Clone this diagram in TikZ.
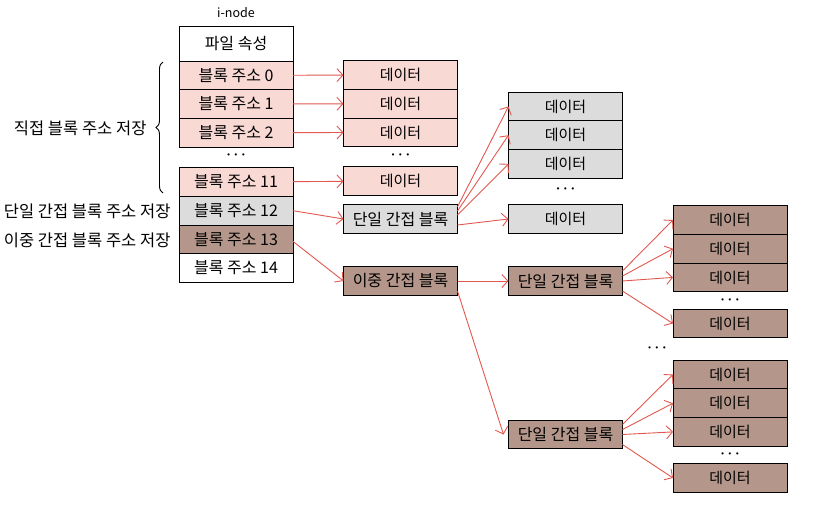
\documentclass[tikz,border=0pt]{standalone}
\usepackage{fontspec}
\setmainfont{Noto Sans CJK KR}
\usepackage{xcolor}
\usepackage{tikz}
\usetikzlibrary{positioning, arrows.meta, decorations.pathreplacing}

\definecolor{pinkcell}{HTML}{F9D9D4}
\definecolor{graycell}{HTML}{DCDCDC}
\definecolor{browncell}{HTML}{B4978A}
\definecolor{arrowred}{HTML}{E0584E}

\tikzset{
	cell/.style={draw, line width=0.9pt, outer sep=0pt, inner sep=0pt, minimum width=114pt, minimum height=28.7pt, font=\fontsize{16}{18}\selectfont},
	pinkbox/.style={cell, fill=pinkcell},
	graybox/.style={cell, fill=graycell},
	brownbox/.style={cell, fill=browncell},
	datatext/.style={font=\fontsize{15}{17}\selectfont},
	dotsnode/.style={font=\Large\boldmath},
	sidelabel/.style={anchor=east, font=\fontsize{16.5}{18}\selectfont},
	ptr/.style={draw=arrowred, line width=0.9pt, -{Straight Barb[length=6pt, width=13pt]}}
}

\begin{document}
\begin{tikzpicture}[x=1pt, y=-1pt]
			\useasboundingbox (0,0) rectangle (831,511);

			% i-node
			\node[font=\fontsize{12.5}{14}\selectfont] (title) at (236,13) {i-node};
			\node[cell, minimum height=35pt] (attr) at (236,43.5) {파일 속성};
			\node[pinkbox, below = 0pt of attr] (b0) {블록 주소 0};
			\node[pinkbox, below = 0pt of b0] (b1) {블록 주소 1};
			\node[pinkbox, below = 0pt of b1] (b2) {블록 주소 2};
			\node[dotsnode] (dots1) at (236,155) {$\cdots$};
			\node[pinkbox] (b11) at (236,182) {블록 주소 11};
			\node[graybox, below = 0pt of b11] (b12) {블록 주소 12};
			\node[brownbox, below = 0pt of b12] (b13) {블록 주소 13};
			\node[cell, below = 0pt of b13] (b14) {블록 주소 14};

			% labels
			\draw[line width=0.9pt, decorate, decoration={brace, amplitude=7pt}] (163,193) -- (163,62);
			\node[sidelabel] (direct) at (150,128) {직접 블록 주소 저장};
			\node[sidelabel] (single) at (174,211) {단일 간접 블록 주소 저장};
			\node[sidelabel] (double) at (174,240) {이중 간접 블록 주소 저장};

			% direct blocks
			\node[pinkbox, datatext] (d0) at (400.5,75) {데이터};
			\node[pinkbox, datatext, below = 0pt of d0] (d1) {데이터};
			\node[pinkbox, datatext, below = 0pt of d1] (d2) {데이터};
			\node[dotsnode] (dots2) at (400.5,155) {$\cdots$};
			\node[pinkbox, datatext] (d3) at (400.5,181) {데이터};
			\node[graybox] (s1) at (400.5,219) {단일 간접 블록};
			\node[brownbox] (dbl) at (400.5,281) {이중 간접 블록};

			% single indirect
			\node[graybox, datatext] (g0) at (565.5,106.5) {데이터};
			\node[graybox, datatext, below = 0pt of g0] (g1) {데이터};
			\node[graybox, datatext, below = 0pt of g1] (g2) {데이터};
			\node[dotsnode] (dots3) at (565.5,189) {$\cdots$};
			\node[graybox, datatext] (g3) at (565.5,219) {데이터};

			% double indirect
			\node[brownbox] (s2) at (565.5,281) {단일 간접 블록};
			\node[brownbox] (s3) at (565.5,434.5) {단일 간접 블록};
			\node[brownbox, datatext] (x0) at (730,220) {데이터};
			\node[brownbox, datatext, below = 0pt of x0] (x1) {데이터};
			\node[brownbox, datatext, below = 0pt of x1] (x2) {데이터};
			\node[dotsnode] (dots4) at (730,300) {$\cdots$};
			\node[brownbox, datatext] (x3) at (730,323.5) {데이터};
			\node[dotsnode] (dots5) at (657,348) {$\cdots$};
			\node[brownbox, datatext] (y0) at (730,374.5) {데이터};
			\node[brownbox, datatext, below = 0pt of y0] (y1) {데이터};
			\node[brownbox, datatext, below = 0pt of y1] (y2) {데이터};
			\node[dotsnode] (dots6) at (730,454) {$\cdots$};
			\node[brownbox, datatext] (y3) at (730,478) {데이터};

			\draw (b0) edge[ptr] (d0);
			\draw (b1) edge[ptr] (d1);
			\draw (b2) edge[ptr] (d2);
			\draw (b11) edge[ptr] (d3);
			\draw (b12.east) edge[ptr] (s1.west);
			\draw ([yshift=-2pt]b13.east) edge[ptr] (dbl.west);
			\draw (s1.12) edge[ptr] (g0.west);
			\draw (s1.8) edge[ptr] (g1.west);
			\draw (s1.4) edge[ptr] (g2.west);
			\draw (s1.-6) edge[ptr] (g3.west);
			\draw (dbl) edge[ptr] (s2);
			\draw (dbl.-10) edge[ptr] ([xshift=-5pt]s3.west);
			\draw (s2.10) edge[ptr] (x0.west);
			\draw (s2.5) edge[ptr] (x1.west);
			\draw (s2.0) edge[ptr] (x2.west);
			\draw (s2.-10) edge[ptr] (x3.west);
			\draw (s3.10) edge[ptr] (y0.west);
			\draw (s3.5) edge[ptr] (y1.west);
			\draw (s3.0) edge[ptr] (y2.west);
			\draw (s3.-10) edge[ptr] (y3.west);
		\end{tikzpicture}
\end{document}
